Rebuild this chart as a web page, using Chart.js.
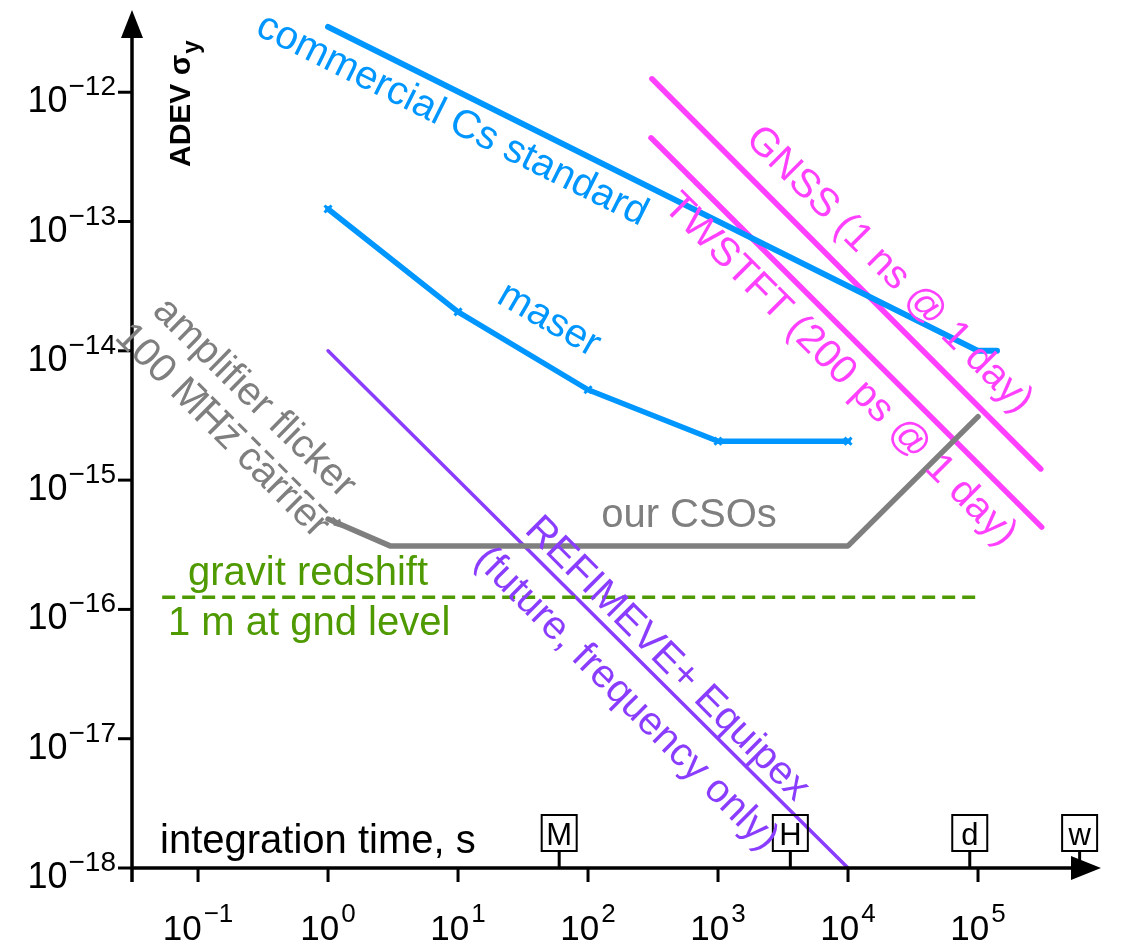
<!DOCTYPE html>
<html><head><meta charset="utf-8">
<script src="https://cdn.jsdelivr.net/npm/chart.js@4.4.1/dist/chart.umd.min.js"></script>
<style>html,body{margin:0;padding:0;background:#fff;overflow:hidden}canvas{display:block}</style>
</head><body>
<canvas id="c" width="1121" height="943"></canvas>
<script>
// ---- data (tau in s, ADEV) ----
const csTau = [1, 1e5, 1.4e5];
const csAdev = [3.2e-12, 1e-14, 1e-14];
const maserTau = [1, 10, 100, 1000, 10000];
const maserAdev = [1.25e-13, 2e-14, 5e-15, 2e-15, 2e-15];
const csoTau = [1, 3, 1e4, 1e5];
const csoAdev = [5e-16, 3.1e-16, 3.1e-16, 3.1e-15];
const flickerTau = [0.1, 1.2];
const flickerAdev = [5.6e-15, 4.6e-16];
const refimeveTau = [1, 1e4];
const refimeveAdev = [1e-14, 1e-18];
const gnssTau = [310, 3.04e5];
const gnssAdev = [1.27e-12, 1.22e-15];
const twstftTau = [305, 3.09e5];
const twstftAdev = [4.44e-13, 4.33e-16];
const redshiftTau = [0.053, 1e5];
const redshiftAdev = [1.24e-16, 1.24e-16];
const xTickExps = [-1, 0, 1, 2, 3, 4, 5];
const yTickExps = [-18, -17, -16, -15, -14, -13, -12];
const markerTau = [60, 3600, 86400, 604800];
const markerLabels = ['M', 'H', 'd', 'w'];

const FONT = '"Liberation Sans", Arial, Helvetica, sans-serif';
const BLUE = '#0096FF', MAG = '#FF40FF', PURP = '#8B3DFF', GRAY = '#7F7F7F', GREEN = '#4E9A00';
function pts(t, a) { return t.map((v, i) => ({x: v, y: a[i]})); }

const annotations = [
  {text: 'commercial Cs standard', x: 452, y: 120, a: 26.5, c: BLUE},
  {text: 'maser', x: 549, y: 320, a: 30, c: BLUE},
  {text: 'amplifier flicker', x: 254, y: 398, a: 44.5, c: GRAY},
  {text: '100 MHz carrier', x: 222, y: 431, a: 45, c: GRAY},
  {text: 'REFIMEVE+ Equipex', x: 667, y: 659, a: 45, c: PURP},
  {text: '(future, frequency only)', x: 626, y: 699, a: 45, c: PURP},
  {text: 'GNSS (1 ns @ 1 day)', x: 889, y: 270, a: 45, c: MAG},
  {text: 'TWSTFT (200 ps @ 1 day)', x: 840, y: 370, a: 45, c: MAG}
];
const flatTexts = [
  {text: 'our CSOs', x: 689, y: 527, align: 'center', c: GRAY},
  {text: 'gravit redshift', x: 188, y: 585, align: 'left', c: GREEN},
  {text: '1 m at gnd level', x: 168, y: 635, align: 'left', c: GREEN},
  {text: 'integration time, s', x: 160, y: 853, align: 'left', c: '#000'}
];

const decor = {
  id: 'decor',
  afterDraw(chart) {
    const ctx = chart.ctx, xs = chart.scales.x, ys = chart.scales.y;
    const x0 = xs.left, yB = ys.bottom;
    ctx.save();
    ctx.strokeStyle = '#000'; ctx.fillStyle = '#000';
    ctx.lineCap = 'butt';
    // axes
    ctx.lineWidth = 3.5;
    ctx.beginPath(); ctx.moveTo(x0, yB + 14); ctx.lineTo(x0, ys.top + 24); ctx.stroke();
    ctx.beginPath(); ctx.moveTo(x0, ys.top); ctx.lineTo(x0 - 11, ys.top + 28); ctx.lineTo(x0 + 11, ys.top + 28); ctx.closePath(); ctx.fill();
    ctx.beginPath(); ctx.moveTo(x0, yB); ctx.lineTo(xs.right - 22, yB); ctx.stroke();
    ctx.beginPath(); ctx.moveTo(xs.right + 3, yB); ctx.lineTo(xs.right - 27, yB - 12); ctx.lineTo(xs.right - 27, yB + 12); ctx.closePath(); ctx.fill();
    // y ticks
    ctx.lineWidth = 3;
    ctx.textBaseline = 'alphabetic';
    yTickExps.forEach(e => {
      const py = ys.getPixelForValue(Math.pow(10, e));
      ctx.beginPath(); ctx.moveTo(x0 - 14, py); ctx.lineTo(x0, py); ctx.stroke();
      const sup = '\u2212' + Math.abs(e);
      ctx.font = '28px ' + FONT; const ws = ctx.measureText(sup).width;
      ctx.font = '36px ' + FONT; const wb = ctx.measureText('10').width;
      const right = x0 - 16;
      ctx.textAlign = 'left';
      ctx.fillText('10', right - ws - wb - 1, py + 20);
      ctx.font = '28px ' + FONT;
      ctx.fillText(sup, right - ws, py + 3);
    });
    // x ticks
    xTickExps.forEach(e => {
      const px = xs.getPixelForValue(Math.pow(10, e));
      ctx.beginPath(); ctx.moveTo(px, yB); ctx.lineTo(px, yB + 14); ctx.stroke();
      const sup = e < 0 ? '\u2212' + Math.abs(e) : String(e);
      ctx.font = '26px ' + FONT; const ws = ctx.measureText(sup).width;
      ctx.font = '35px ' + FONT; const wb = ctx.measureText('10').width;
      const start = px - (wb + ws + 2) / 2;
      ctx.textAlign = 'left';
      ctx.fillText('10', start, 940);
      ctx.font = '26px ' + FONT;
      ctx.fillText(sup, start + wb + 2, 922);
    });
    // time markers
    markerTau.forEach((t, i) => {
      const px = xs.getPixelForValue(t);
      ctx.lineWidth = 3;
      ctx.beginPath(); ctx.moveTo(px, yB - 17); ctx.lineTo(px, yB); ctx.stroke();
      ctx.lineWidth = 2;
      ctx.strokeRect(px - 17.5, yB - 53, 35, 36);
      ctx.font = '31px ' + FONT; ctx.textAlign = 'center'; ctx.textBaseline = 'alphabetic';
      ctx.fillText(markerLabels[i], px, yB - 23);
    });
    // y title
    ctx.save();
    ctx.translate(x0 + 58, 167); ctx.rotate(-Math.PI / 2);
    ctx.textAlign = 'left'; ctx.textBaseline = 'alphabetic';
    ctx.font = 'bold 30px ' + FONT;
    ctx.fillText('ADEV \u03c3', 0, 0);
    const wt = ctx.measureText('ADEV \u03c3').width;
    ctx.font = 'bold 24px ' + FONT;
    ctx.fillText('y', wt + 1, 9);
    ctx.restore();
    // annotations
    ctx.font = '40px ' + FONT;
    annotations.forEach(an => {
      ctx.save();
      ctx.translate(an.x, an.y); ctx.rotate(an.a * Math.PI / 180);
      ctx.fillStyle = an.c; ctx.textAlign = 'center'; ctx.textBaseline = 'middle';
      ctx.fillText(an.text, 0, 0);
      ctx.restore();
    });
    flatTexts.forEach(t => {
      ctx.fillStyle = t.c; ctx.textAlign = t.align; ctx.textBaseline = 'alphabetic';
      ctx.fillText(t.text, t.x, t.y);
    });
    ctx.restore();
  }
};

const common = {pointRadius: 0, fill: false, tension: 0, clip: false, borderCapStyle: 'round', borderJoinStyle: 'round'};
new Chart(document.getElementById('c'), {
  type: 'line',
  data: {
    datasets: [
      Object.assign({}, common, {label: 'redshift', data: pts(redshiftTau, redshiftAdev), borderColor: GREEN, borderWidth: 3.5, borderDash: [13, 7], borderCapStyle: 'butt'}),
      Object.assign({}, common, {label: 'flicker', data: pts(flickerTau, flickerAdev), borderColor: GRAY, borderWidth: 3, borderDash: [12, 7], borderCapStyle: 'butt',
        pointRadius: [0, 5], pointStyle: 'triangle', pointRotation: 135, pointBackgroundColor: GRAY, pointBorderColor: GRAY, pointBorderWidth: 1}),
      Object.assign({}, common, {label: 'CSO', data: pts(csoTau, csoAdev), borderColor: GRAY, borderWidth: 5.5}),
      Object.assign({}, common, {label: 'REFIMEVE', data: pts(refimeveTau, refimeveAdev), borderColor: PURP, borderWidth: 3.5}),
      Object.assign({}, common, {label: 'maser', data: pts(maserTau, maserAdev), borderColor: BLUE, borderWidth: 5.5,
        pointRadius: 5, pointStyle: 'crossRot', pointBorderColor: BLUE, pointBorderWidth: 3}),
      Object.assign({}, common, {label: 'Cs', data: pts(csTau, csAdev), borderColor: BLUE, borderWidth: 6}),
      Object.assign({}, common, {label: 'TWSTFT', data: pts(twstftTau, twstftAdev), borderColor: MAG, borderWidth: 5.5}),
      Object.assign({}, common, {label: 'GNSS', data: pts(gnssTau, gnssAdev), borderColor: MAG, borderWidth: 5.5})
    ]
  },
  options: {
    responsive: false, animation: false, devicePixelRatio: 1,
    layout: {padding: {left: 132, top: 10, right: 23, bottom: 75}},
    plugins: {legend: {display: false}, tooltip: {enabled: false}},
    scales: {
      x: {type: 'logarithmic', display: false, min: Math.pow(10, -1.508), max: Math.pow(10, 5.923)},
      y: {type: 'logarithmic', display: false, min: 1e-18, max: Math.pow(10, -11.364)}
    }
  },
  plugins: [decor]
});
</script>
</body></html>
